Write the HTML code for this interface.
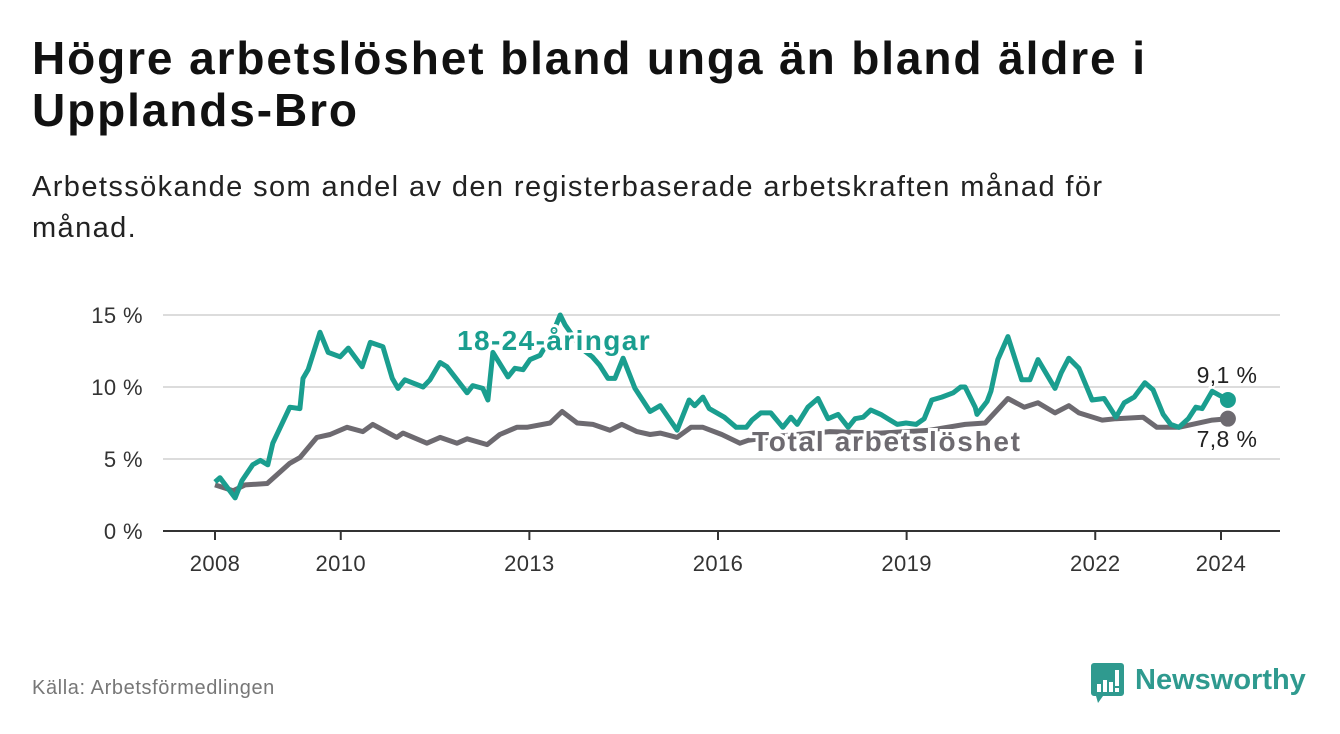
<!DOCTYPE html>
<html><head><meta charset="utf-8">
<style>
body{margin:0;width:1340px;height:734px;background:#fff;font-family:"Liberation Sans",sans-serif;overflow:hidden;position:relative}
.t{position:absolute;left:32px;top:32px;font-size:46px;font-weight:bold;color:#111;line-height:52px;width:1300px;letter-spacing:1.9px;white-space:nowrap}
.s{position:absolute;left:32px;top:167px;font-size:29px;color:#222;line-height:41px;width:1300px;letter-spacing:1.4px;white-space:nowrap}
.src{position:absolute;left:32px;top:677px;font-size:20px;color:#777;letter-spacing:0.6px}
.logo{position:absolute;left:1089px;top:660px}
svg text{font-family:"Liberation Sans",sans-serif}
</style></head><body>
<div class="t">Högre arbetslöshet bland unga än bland äldre i<br>Upplands-Bro</div>
<div class="s">Arbetssökande som andel av den registerbaserade arbetskraften månad för<br>månad.</div>
<svg id="chart" style="position:absolute;left:0;top:0" width="1340" height="734"></svg>
<div class="src">Källa: Arbetsförmedlingen</div>
<div class="logo">
<svg width="230" height="46">
<path d="M2 3h30a3 3 0 0 1 3 3v27a3 3 0 0 1-3 3H14l-5 7-2-7H5a3 3 0 0 1-3-3V6a3 3 0 0 1 3-3z" fill="#2f9a8f"/>
<rect x="8" y="24" width="4" height="8" fill="#fff"/><rect x="14" y="20" width="4" height="12" fill="#fff"/><rect x="20" y="22" width="4" height="10" fill="#fff"/><rect x="26" y="10" width="4" height="16" fill="#fff"/><rect x="26" y="28" width="4" height="4" fill="#fff"/>
<text x="46" y="29" font-size="29" font-weight="bold" fill="#2f9a8f">Newsworthy</text>
</svg></div>
<script>
const yTicks=[0,5,10,15];
const yTickLabels=["0 %","5 %","10 %","15 %"];
const xTicks=[2008,2010,2013,2016,2019,2022,2024];
const youthYears=[2008.00,2008.08,2008.32,2008.43,2008.60,2008.72,2008.84,2008.92,2009.19,2009.35,2009.40,2009.48,2009.67,2009.80,2009.99,2010.12,2010.34,2010.47,2010.67,2010.82,2010.91,2011.02,2011.31,2011.42,2011.58,2011.69,2011.85,2012.01,2012.10,2012.26,2012.34,2012.42,2012.66,2012.77,2012.90,2013.01,2013.17,2013.25,2013.36,2013.49,2013.57,2013.73,2013.88,2014.00,2014.12,2014.25,2014.36,2014.49,2014.68,2014.92,2015.08,2015.35,2015.54,2015.63,2015.76,2015.86,2016.10,2016.29,2016.45,2016.54,2016.68,2016.84,2017.03,2017.16,2017.26,2017.43,2017.59,2017.75,2017.91,2018.07,2018.18,2018.31,2018.43,2018.59,2018.85,2018.99,2019.15,2019.28,2019.40,2019.56,2019.74,2019.86,2019.93,2020.09,2020.12,2020.28,2020.34,2020.45,2020.61,2020.83,2020.96,2021.09,2021.36,2021.46,2021.58,2021.74,2021.95,2022.14,2022.33,2022.46,2022.62,2022.79,2022.92,2023.08,2023.20,2023.33,2023.48,2023.60,2023.70,2023.86,2024.11];
const youthValues=[3.4,3.7,2.3,3.5,4.6,4.9,4.6,6.1,8.6,8.5,10.6,11.2,13.8,12.4,12.1,12.7,11.4,13.1,12.8,10.6,9.9,10.5,10.0,10.5,11.7,11.4,10.5,9.6,10.1,9.9,9.1,12.4,10.7,11.3,11.2,11.9,12.2,12.8,13.6,15.0,14.3,13.3,12.5,12.1,11.5,10.6,10.6,12.0,9.9,8.3,8.7,7.0,9.1,8.7,9.3,8.5,7.9,7.2,7.2,7.7,8.2,8.2,7.2,7.9,7.4,8.6,9.2,7.8,8.1,7.2,7.8,7.9,8.4,8.1,7.4,7.5,7.4,7.8,9.1,9.3,9.6,10.0,10.0,8.6,8.1,9.0,9.7,11.9,13.5,10.5,10.5,11.9,9.9,11.0,12.0,11.3,9.1,9.2,7.9,8.9,9.3,10.3,9.8,8.1,7.4,7.2,7.8,8.6,8.5,9.7,9.1];
const totalYears=[2008.00,2008.29,2008.48,2008.83,2009.19,2009.35,2009.62,2009.83,2010.10,2010.35,2010.51,2010.89,2010.99,2011.37,2011.58,2011.85,2012.01,2012.33,2012.53,2012.80,2012.96,2013.33,2013.52,2013.76,2014.01,2014.28,2014.47,2014.71,2014.92,2015.08,2015.35,2015.57,2015.76,2016.06,2016.35,2016.48,2016.99,2017.78,2018.58,2019.37,2019.93,2020.25,2020.61,2020.87,2021.09,2021.36,2021.58,2021.74,2022.11,2022.33,2022.76,2022.98,2023.33,2023.86,2024.11];
const totalValues=[3.2,2.8,3.2,3.3,4.7,5.1,6.5,6.7,7.2,6.9,7.4,6.5,6.8,6.1,6.5,6.1,6.4,6.0,6.7,7.2,7.2,7.5,8.3,7.5,7.4,7.0,7.4,6.9,6.7,6.8,6.5,7.2,7.2,6.7,6.1,6.3,6.6,6.9,6.8,7.0,7.4,7.5,9.2,8.6,8.9,8.2,8.7,8.2,7.7,7.8,7.9,7.2,7.2,7.7,7.8];
const youthEndLabel="9,1 %", totalEndLabel="7,8 %";

const NS="http://www.w3.org/2000/svg";
const svg=document.getElementById('chart');
const X=y=>215+(y-2008)*62.875;
const Y=v=>531-v*14.4;
function mk(tag,attrs,parent){const e=document.createElementNS(NS,tag);for(const k in attrs)e.setAttribute(k,attrs[k]);(parent||svg).appendChild(e);return e;}
yTicks.forEach((t,i)=>{
  if(t>0){const g=mk('line',{x1:163,x2:1280,y1:Y(t),y2:Y(t),stroke:'#dcdcdc','stroke-width':2});
  
  }
  const l=mk('text',{x:143,y:Y(t)+8,'text-anchor':'end','font-size':22,fill:'#333','letter-spacing':0.4});
  l.textContent=yTickLabels[i];
  
  
});
const ax=mk('line',{x1:163,x2:1280,y1:531,y2:531,stroke:'#333','stroke-width':2});


xTicks.forEach(t=>{
  mk('line',{x1:X(t),x2:X(t),y1:531,y2:540,stroke:'#333','stroke-width':2});
  const l=mk('text',{x:X(t),y:571,'text-anchor':'middle','font-size':22,fill:'#333','letter-spacing':0.4});
  l.textContent=t;
  
  
});
function line(xs,vs,col,name){
  const d=xs.map((x,i)=>(i?'L':'M')+X(x).toFixed(1)+' '+Y(vs[i]).toFixed(1)).join(' ');
  const p=mk('path',{d:d,fill:'none',stroke:col,'stroke-width':5,'stroke-linejoin':'round'});
  
  
  const c=mk('circle',{cx:X(xs[xs.length-1]),cy:Y(vs[vs.length-1]),r:8,fill:col});
  
  
}
line(totalYears,totalValues,'#6d6a70','total-line');
line(youthYears,youthValues,'#1a9e8f','youth-line');
function lab(txt,x,y,col,name,bold,anchor,ls){
  const t=mk('text',{x:x,y:y,'font-size':bold?28:23,'font-weight':bold?'bold':'normal',fill:col,stroke:'#fff','stroke-width':bold?6:4,'paint-order':'stroke','text-anchor':anchor||'start','letter-spacing':ls});
  t.textContent=txt;
  
  
}
lab('18-24-åringar',457,350,'#1a9e8f','youth-series-label',true,'start',1.4);
lab('Total arbetslöshet',752,451,'#6d6a70','total-series-label',true,'start',1.7);
lab(youthEndLabel,1227,383,'#222','youth-end-value',false,'middle',0.4);
lab(totalEndLabel,1227,447,'#222','total-end-value',false,'middle',0.4);
</script>
</body></html>
